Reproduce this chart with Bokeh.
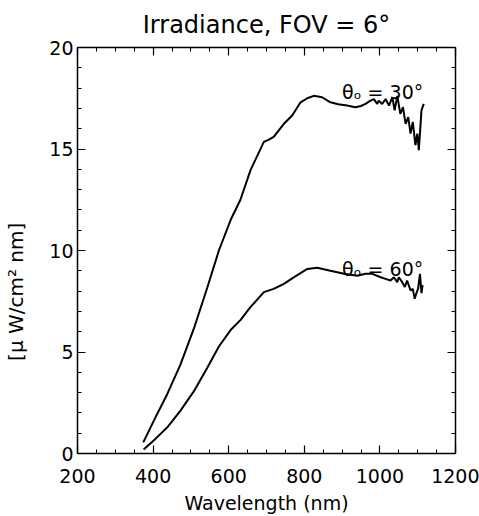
from bokeh.plotting import figure
from bokeh.models import LinearAxis, SingleIntervalTicker, Range1d, Label
from bokeh.embed import file_html
from bokeh.resources import INLINE

# Wavelength (nm) and irradiance (micro W / cm^2 nm)
wl30 = [374, 406, 437, 472, 508, 543, 574, 605, 631, 658, 693, 705, 719, 746, 768,
        790, 808, 825, 847, 869, 890, 913, 935, 950, 962, 975, 984, 993, 997, 1006,
        1015, 1024, 1033, 1039, 1046, 1054, 1061, 1068, 1075, 1081, 1087, 1094, 1099,
        1103, 1110, 1116]
ir30 = [0.55, 1.77, 2.91, 4.37, 6.16, 8.15, 10.0, 11.5, 12.5, 13.97, 15.35, 15.45,
        15.6, 16.24, 16.65, 17.3, 17.5, 17.62, 17.55, 17.3, 17.2, 17.14, 17.06, 17.12,
        17.22, 17.38, 17.46, 17.22, 17.38, 17.22, 17.46, 17.14, 17.55, 16.9, 17.62,
        16.73, 17.06, 16.24, 16.57, 15.76, 16.33, 15.19, 15.76, 14.94, 16.9, 17.22]

wl60 = [375, 406, 437, 472, 508, 543, 574, 605, 631, 658, 693, 719, 746, 772, 808,
        834, 869, 905, 940, 962, 980, 1002, 1015, 1028, 1037, 1046, 1050, 1059, 1066,
        1072, 1081, 1087, 1092, 1096, 1101, 1106, 1110, 1113]
ir60 = [0.2, 0.72, 1.28, 2.1, 3.07, 4.21, 5.27, 6.08, 6.57, 7.22, 7.95, 8.11, 8.36,
        8.68, 9.09, 9.15, 9.0, 8.85, 8.76, 8.85, 8.85, 8.68, 8.6, 8.52, 8.68, 8.44,
        8.68, 8.44, 8.2, 8.52, 8.03, 8.11, 7.62, 7.87, 8.11, 8.85, 7.9, 8.3]

curve_labels = ["\u03b8\u2092 = 30\u00b0", "\u03b8\u2092 = 60\u00b0"]
label_x = [900, 900]
label_y = [17.8, 9.1]

title_text = "Irradiance, FOV = 6\u00b0"
x_title = "Wavelength (nm)"
y_title = "[\u03bc W/cm\u00b2 nm]"

FONT = "DejaVu Sans"

p = figure(width=479, height=516, output_backend="svg", toolbar_location=None,
           x_range=Range1d(200, 1200), y_range=Range1d(0, 20),
           x_axis_location=None, y_axis_location=None,
           min_border_left=77, min_border_right=24, min_border_top=43,
           min_border_bottom=63, background_fill_color="white",
           border_fill_color="white")
p.outline_line_color = None
p.grid.visible = False

p.title.text = title_text
p.title.align = "center"
p.title.text_font = FONT
p.title.text_font_size = "24px"
p.title.text_font_style = "normal"
p.title.text_color = "black"
p.title.standoff = 17


def style(ax, show_labels):
    ax.major_tick_in = 8
    ax.major_tick_out = 0
    ax.minor_tick_in = 4
    ax.minor_tick_out = 0
    ax.axis_line_color = "black"
    ax.axis_line_width = 1.5
    ax.major_tick_line_color = "black"
    ax.minor_tick_line_color = "black"
    ax.major_tick_line_width = 1.2
    ax.minor_tick_line_width = 1.0
    ax.major_label_text_font = FONT
    ax.major_label_text_color = "black"
    ax.axis_label_text_font = FONT
    ax.axis_label_text_font_style = "normal"
    ax.axis_label_text_color = "black"
    if show_labels:
        ax.major_label_text_font_size = "19px"
    else:
        ax.major_label_text_font_size = "0px"
        ax.major_label_text_alpha = 0


def xticker():
    return SingleIntervalTicker(interval=200, num_minor_ticks=4)


def yticker():
    return SingleIntervalTicker(interval=5, num_minor_ticks=5)


xb = LinearAxis(ticker=xticker(), axis_label=x_title)
style(xb, True)
xb.major_label_standoff = 15
xb.axis_label_text_font_size = "19px"
xb.axis_label_standoff = 6
p.add_layout(xb, "below")

xt = LinearAxis(ticker=xticker())
style(xt, False)
p.add_layout(xt, "above")

# the reference's y title sits below the frame centre: pad its top end
yl = LinearAxis(ticker=yticker(), axis_label=y_title + "\u00a0" * 13)
style(yl, True)
yl.major_label_standoff = 4
yl.axis_label_text_font_size = "20px"
yl.axis_label_standoff = 18
p.add_layout(yl, "left")

yr = LinearAxis(ticker=yticker())
style(yr, False)
p.add_layout(yr, "right")

p.line(wl30, ir30, line_color="black", line_width=2)
p.line(wl60, ir60, line_color="black", line_width=2)

for t, lx, ly in zip(curve_labels, label_x, label_y):
    p.add_layout(Label(x=lx, y=ly, text=t, text_font=FONT, text_font_size="19px",
                       text_color="black", text_baseline="alphabetic"))

open("out.html", "w").write(file_html(p, INLINE))
